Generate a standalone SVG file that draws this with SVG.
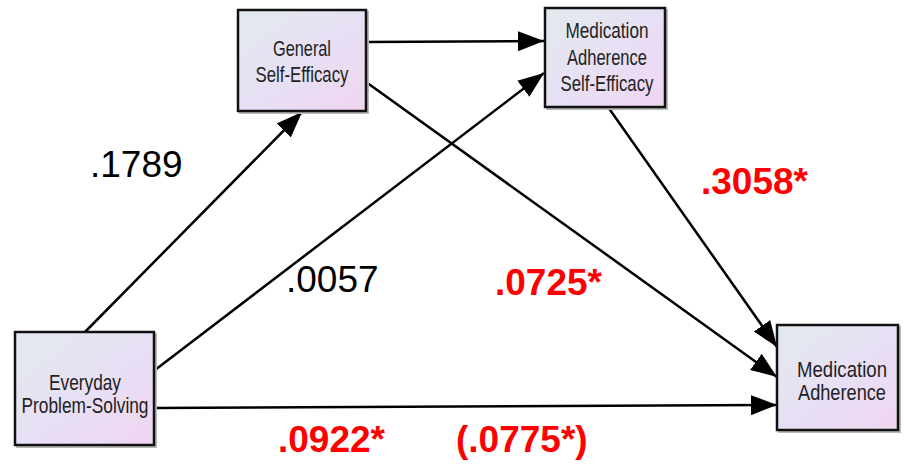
<svg xmlns="http://www.w3.org/2000/svg" width="904" height="465" viewBox="0 0 904 465">
<style>
.box{stroke:#111;stroke-width:2.5;fill:url(#g)}
.sh{fill:none;stroke:#b8b8b8;stroke-width:2}
.nt{font-family:"Liberation Sans",Arial,sans-serif;font-size:22px;fill:#222;text-anchor:middle}
.lbl{font-family:"Liberation Sans",Arial,sans-serif;font-size:37px;fill:#000}
.red{fill:#ff0000;font-weight:bold}
.c{stroke:#000;stroke-width:2.5;fill:none;marker-end:url(#ah)}
</style>
<defs>
<linearGradient id="g" x1="0" y1="0" x2="1" y2="1">
<stop offset="0" stop-color="#e2eaee"/>
<stop offset="0.5" stop-color="#e7e0f4"/>
<stop offset="1" stop-color="#f0d6f0"/>
</linearGradient>
<marker id="ah" markerUnits="userSpaceOnUse" markerWidth="28" markerHeight="22" refX="26" refY="11" orient="auto">
<path d="M0,1 L26,11 L0,21 Z" fill="#000"/>
</marker>
</defs>
<rect width="904" height="465" fill="#fff"/>
<g id="connectors">
<line class="c" x1="85" y1="332" x2="302" y2="112"/>
<line class="c" x1="155" y1="370" x2="544" y2="73"/>
<line class="c" x1="366" y1="42" x2="544" y2="41"/>
<line class="c" x1="366" y1="82" x2="777" y2="377"/>
<line class="c" x1="608" y1="107" x2="777" y2="347"/>
<line class="c" x1="155" y1="408" x2="777" y2="405"/>
</g>
<g id="n_gse">
<rect class="sh" x="240" y="12" width="128" height="101"/>
<rect class="box" x="238" y="10" width="128" height="101"/>
<text class="nt" x="302" y="56" textLength="58" lengthAdjust="spacingAndGlyphs">General</text>
<text class="nt" x="302" y="82" textLength="93" lengthAdjust="spacingAndGlyphs">Self-Efficacy</text>
</g>
<g id="n_mas">
<rect class="sh" x="547" y="10" width="120" height="99"/>
<rect class="box" x="545" y="8" width="120" height="99"/>
<text class="nt" x="607" y="38" textLength="83" lengthAdjust="spacingAndGlyphs">Medication</text>
<text class="nt" x="607" y="65" textLength="80" lengthAdjust="spacingAndGlyphs">Adherence</text>
<text class="nt" x="607" y="91" textLength="93" lengthAdjust="spacingAndGlyphs">Self-Efficacy</text>
</g>
<g id="n_eps">
<rect class="sh" x="17" y="334" width="139" height="113"/>
<rect class="box" x="15" y="332" width="139" height="113"/>
<text class="nt" x="85" y="390" textLength="72" lengthAdjust="spacingAndGlyphs">Everyday</text>
<text class="nt" x="85" y="413" textLength="127" lengthAdjust="spacingAndGlyphs">Problem-Solving</text>
</g>
<g id="n_ma">
<rect class="sh" x="779" y="327" width="121" height="105"/>
<rect class="box" x="777" y="325" width="121" height="105"/>
<text class="nt" x="842" y="377" textLength="90" lengthAdjust="spacingAndGlyphs">Medication</text>
<text class="nt" x="842" y="400" textLength="88" lengthAdjust="spacingAndGlyphs">Adherence</text>
</g>
<g id="labels">
<text class="lbl" x="90" y="177">.1789</text>
<text class="lbl" x="286" y="292">.0057</text>
<text class="lbl red" x="701" y="194">.3058*</text>
<text class="lbl red" x="495" y="295">.0725*</text>
<text class="lbl red" x="278" y="452">.0922*</text>
<text class="lbl red" x="456" y="452">(.0775*)</text>
</g>
</svg>
